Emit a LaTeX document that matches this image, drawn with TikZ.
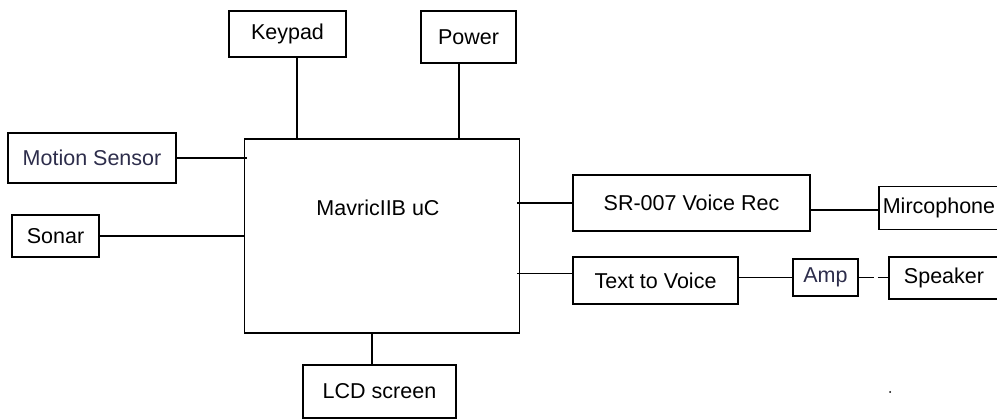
\documentclass[tikz,border=0pt]{standalone}
\usepackage{fontspec}
\setmainfont{Liberation Sans}
\definecolor{cleartype}{RGB}{45,45,75}
\tikzset{
  blockbox/.style={draw, line width=1.5pt, inner sep=0pt, font=\fontsize{21.5}{25}\selectfont},
  wire/.style={line width=1.5pt}
}
\begin{document}
\begin{tikzpicture}[x=1pt,y=-1pt]
\useasboundingbox (0,0) rectangle (997,419);
\clip (0,0) rectangle (997,419);
\node[blockbox, minimum width=117, minimum height=46] (keypad) at (287.5,34) {Keypad};
\node[blockbox, minimum width=95, minimum height=52] (power) at (468.5,37) {Power};
\node[blockbox, minimum width=168, minimum height=50, text=cleartype] (motion) at (92,158) {Motion Sensor};
\node[blockbox, minimum width=87, minimum height=42] (sonar) at (55.5,236) {Sonar};
\node[blockbox, minimum width=275, minimum height=194] (mcu) at (382,236) {};
\node[font=\fontsize{21.5}{25}\selectfont, inner sep=0pt] (mcutitle) at (378,208) {MavricIIB uC};
\node[blockbox, minimum width=237, minimum height=56] (voicerec) at (691.5,203) {SR-007 Voice Rec};
\node[blockbox, minimum width=120, minimum height=43] (mic) at (939,208) {Mircophone};
\node[blockbox, minimum width=165, minimum height=47] (tts) at (655.5,280.5) {Text to Voice};
\node[blockbox, minimum width=65, minimum height=37, text=cleartype] (amp) at (825.5,277.5) {Amp};
\node[blockbox, minimum width=110, minimum height=42] (speaker) at (944,278) {Speaker};
\node[blockbox, minimum width=153, minimum height=53] (lcd) at (379.5,391.5) {LCD screen};
\draw[wire] ([xshift=9.5]keypad.south) -- ([xshift=9.5]keypad.south |- mcu.north);
\draw[wire] ([xshift=-9.5]power.south) -- ([xshift=-9.5]power.south |- mcu.north);
\draw[wire] (motion.east) -- ([xshift=3]motion.east -| mcu.west);
\draw[wire] (sonar.east) -- (sonar.east -| mcu.west);
\draw[wire] ([xshift=-3]mcu.east |- voicerec.west) -- (voicerec.west);
\draw[wire] ([xshift=-3,yshift=7]mcu.east |- tts.west) -- ([yshift=7]tts.west);
\draw[wire] ([yshift=-7]voicerec.east) -- ([yshift=-7]voicerec.east -| mic.west);
\draw[wire] (tts.east |- amp.west) -- (amp.west);
\draw[wire, dash pattern=on 15pt off 4pt] (amp.east) -- (amp.east -| speaker.west);
\draw[wire] ([xshift=-7.5]lcd.north) -- ([xshift=-7.5]lcd.north |- mcu.south);
\fill (890,392) circle (1);
\end{tikzpicture}
\end{document}
